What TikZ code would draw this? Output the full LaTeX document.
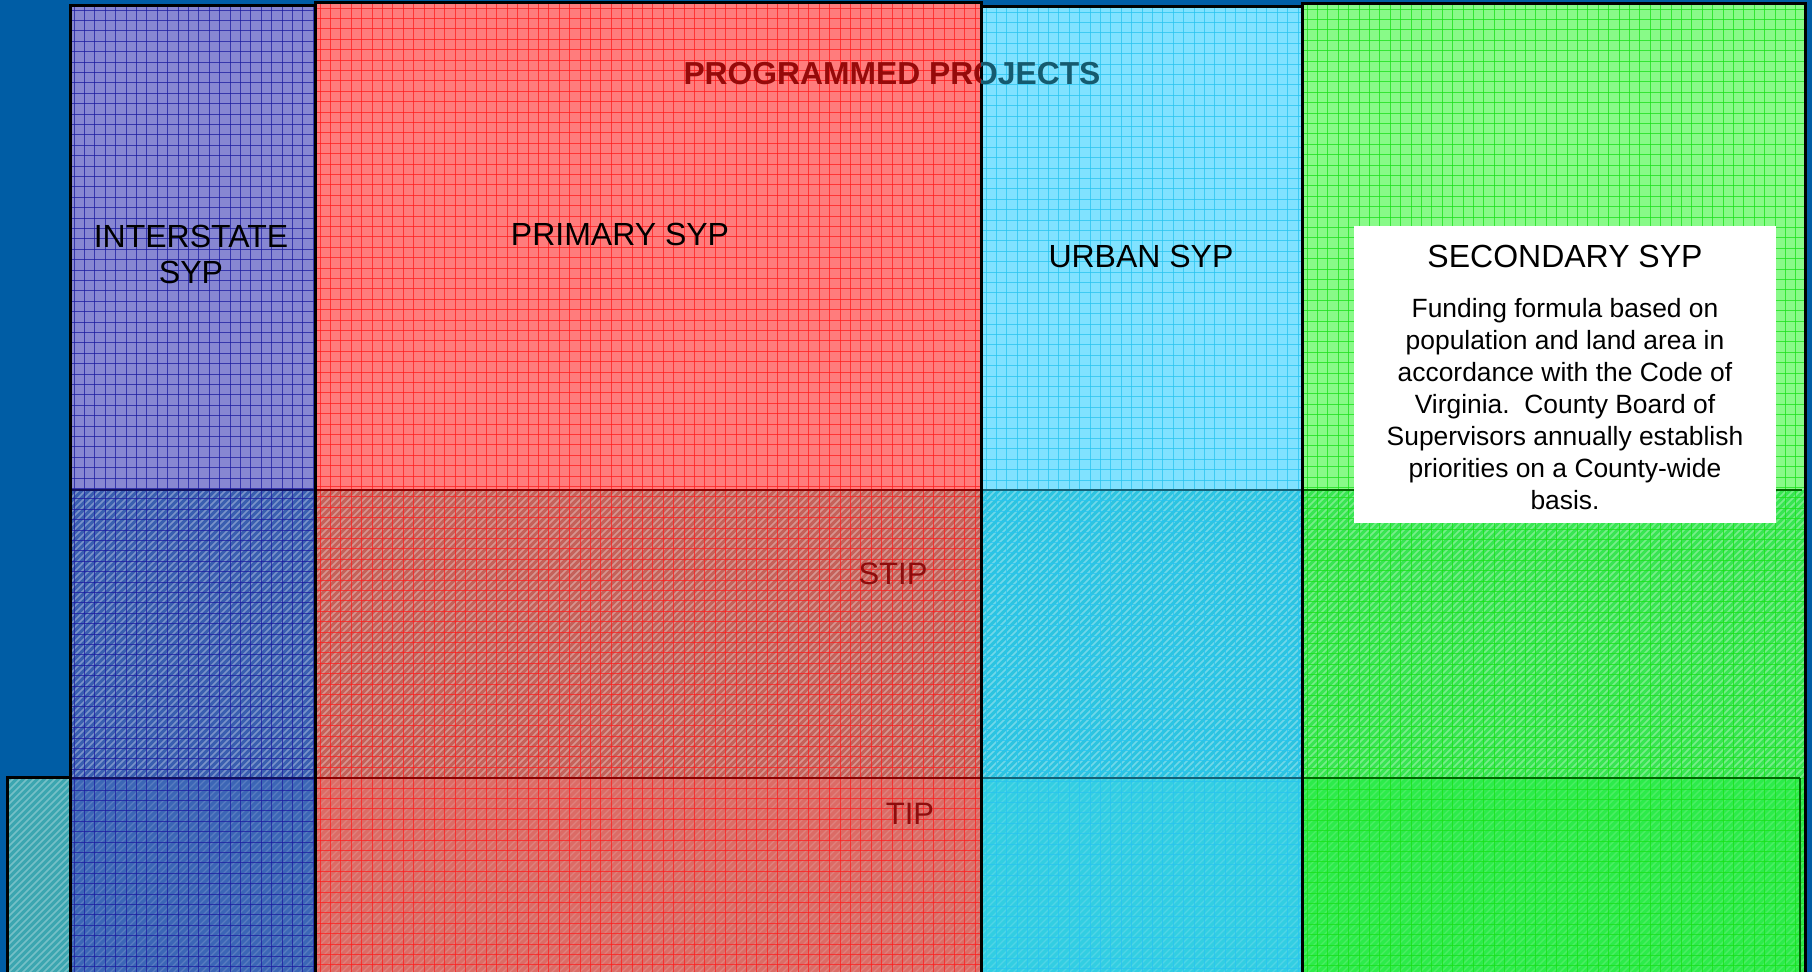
\documentclass[tikz,border=0pt]{standalone}
\usepackage{fontspec}
\setmainfont{Liberation Sans}
\definecolor{bg}{HTML}{005DA5}
\definecolor{iTop}{HTML}{8787D2}
\definecolor{iStip}{HTML}{3A5FB0}
\definecolor{iTip}{HTML}{3C66B6}
\definecolor{iGrid}{HTML}{1C1CA0}
\definecolor{pTop}{HTML}{FF7C7C}
\definecolor{pStip}{HTML}{C4625A}
\definecolor{pTip}{HTML}{DB6C66}
\definecolor{pGrid}{HTML}{FF1E1E}
\definecolor{uTop}{HTML}{80E2FF}
\definecolor{uStip}{HTML}{2CC4E0}
\definecolor{uTip}{HTML}{32CEE2}
\definecolor{uGrid}{HTML}{28C4F0}
\definecolor{sTop}{HTML}{88FA88}
\definecolor{sStip}{HTML}{38E552}
\definecolor{sTip}{HTML}{2CEB4A}
\definecolor{sGrid}{HTML}{18E018}
\definecolor{teal}{HTML}{3CA6B0}
\definecolor{ppRed}{HTML}{960A0A}
\definecolor{ppTeal}{HTML}{155A6E}
\definecolor{tipRed}{HTML}{8E0C0C}
\tikzset{
  colborder/.style={draw=black, line width=1.5pt},
  rowline/.style={line width=1.1pt},
  gridline/.style={line width=0.35pt, opacity=0.75},
  hatchS/.style={white, opacity=0.33, line width=0.8pt},
  hatchT/.style={white, opacity=0.15, line width=0.7pt},
  title/.style={font=\fontsize{16}{18}\selectfont, text=black, align=center, inner sep=0pt},
  body/.style={font=\fontsize{13.2}{16}\selectfont, text=black, align=center, inner sep=0pt},
  tag/.style={font=\fontsize{15.5}{18}\selectfont, text=tipRed, inner sep=0pt},
  pp/.style={font=\fontsize{15.9}{18}\selectfont\bfseries, inner sep=0pt},
}
\begin{document}
\begin{tikzpicture}[x=0.5pt,y=-0.5pt]
\useasboundingbox (0,0) rectangle (1812,972);
\clip (0,0) rectangle (1812,972);
\fill[bg] (0,0) rectangle (1812,972);

% ---- cell fills ----
\fill[iTop]  (70,6) rectangle (315,490);
\fill[iStip] (70,490) rectangle (315,778);
\fill[iTip]  (70,778) rectangle (315,990);
\fill[pTop]  (315,3) rectangle (981,490);
\fill[pStip] (315,490) rectangle (981,778);
\fill[pTip]  (315,778) rectangle (981,990);
\fill[uTop]  (981,7) rectangle (1302,490);
\fill[uStip] (981,490) rectangle (1302,778);
\fill[uTip]  (981,778) rectangle (1302,990);
\fill[sTop]  (1302,4) rectangle (1805,490);
\fill[sStip] (1302,490) rectangle (1805,778);
\fill[sTip]  (1302,778) rectangle (1805,990);

% ---- hatching ----
\begin{scope}
\clip (70,490) rectangle (1805,778);
\foreach \s in {-300,-293,...,1810} \draw[hatchS] (\s,778) -- (\s+288,490);
\end{scope}
\begin{scope}
\clip (70,778) rectangle (1805,990);
\foreach \s in {-10,-3,...,2020} \draw[hatchT] (\s,778) -- (\s-212,990);
\end{scope}

% ---- grids ----
\begin{scope}
\clip (70,6) rectangle (315,990);
\foreach \x in {74,84.4,...,320} \draw[gridline,iGrid] (\x,0) -- (\x,990);
\foreach \y in {10,20.4,...,990} \draw[gridline,iGrid] (60,\y) -- (320,\y);
\end{scope}
\begin{scope}
\clip (315,3) rectangle (981,990);
\foreach \x in {320,330.4,...,990} \draw[gridline,pGrid] (\x,0) -- (\x,990);
\foreach \y in {8,18.4,...,990} \draw[gridline,pGrid] (310,\y) -- (990,\y);
\end{scope}
\begin{scope}
\clip (981,7) rectangle (1302,990);
\foreach \x in {986,996.4,...,1310} \draw[gridline,uGrid] (\x,0) -- (\x,990);
\foreach \y in {12,22.4,...,990} \draw[gridline,uGrid] (975,\y) -- (1310,\y);
\end{scope}
\begin{scope}
\clip (1302,4) rectangle (1805,990);
\foreach \x in {1307,1317.4,...,1810} \draw[gridline,sGrid] (\x,0) -- (\x,990);
\foreach \y in {9,19.4,...,990} \draw[gridline,sGrid] (1295,\y) -- (1810,\y);
\end{scope}

% ---- row dividers ----
\draw[rowline,iGrid!60!black] (70,490) -- (315,490);
\draw[rowline,iGrid!60!black] (70,778) -- (315,778);
\draw[rowline,red!55!black] (315,490) -- (981,490);
\draw[rowline,red!55!black] (315,778) -- (981,778);
\draw[rowline,uGrid!50!black] (981,490) -- (1302,490);
\draw[rowline,uGrid!50!black] (981,778) -- (1302,778);
\draw[rowline,green!40!black] (1302,490) -- (1802,490);
\draw[rowline,green!40!black] (1302,778) -- (1800,778);
\draw[line width=0.8pt,green!40!black] (1800,778) -- (1800,990);

% ---- bottom-left teal block ----
\fill[teal] (7,778) rectangle (70,990);
\begin{scope}
\clip (7,778) rectangle (70,990);
\foreach \s in {0,7,...,300} \draw[white,opacity=0.3,line width=0.8pt] (\s,778) -- (\s-212,990);
\end{scope}
\draw[colborder] (7,990) -- (7,778) -- (70,778);

% ---- column borders ----
\draw[colborder] (70,990) -- (70,6) -- (315,6);
\draw[colborder] (315,990) -- (315,3) -- (981,3) -- (981,990);
\draw[colborder] (981,7) -- (1302,7);
\draw[colborder] (1302,990) -- (1302,4) -- (1805,4) -- (1805,990);

% ---- labels ----
\begin{scope}
\clip (315,3) rectangle (981,490);
\node[pp, text=ppRed] (ppA) at (892,74) {PROGRAMMED PROJECTS};
\end{scope}
\begin{scope}
\clip (981,7) rectangle (1302,490);
\node[pp, text=ppTeal] (ppB) at (892,74) {PROGRAMMED PROJECTS};
\end{scope}

\node[title] (inter) at (191,254) {INTERSTATE\\SYP};
\node[title] (prim) at (620,234) {PRIMARY SYP};
\node[title] (urban) at (1141,256) {URBAN SYP};

\node[tag] (stip) at (893,574) {STIP};
\node[tag] (tip) at (910,814) {TIP};

\fill[white] (1354,226) rectangle (1776,523);
\node[title] (sec) at (1565,256) {SECONDARY SYP};
\node[body] (secbody) at (1565,404) {Funding formula based on\\population and land area in\\accordance with the Code of\\Virginia.\ \ County Board of\\Supervisors annually establish\\priorities on a County-wide\\basis.};
\end{tikzpicture}
\end{document}
